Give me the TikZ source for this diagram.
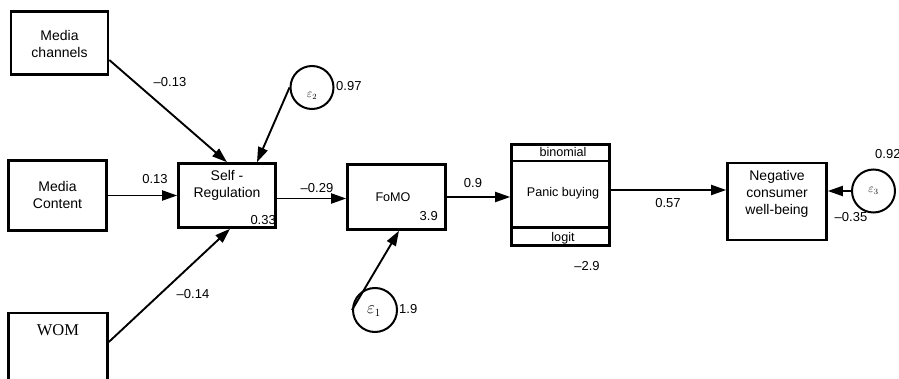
\documentclass[tikz,border=0pt]{standalone}
\usepackage{fontspec}
\setmainfont{Liberation Sans}
\newfontfamily\womfont{Liberation Serif}
\usetikzlibrary{arrows.meta,calc}
\begin{document}
\begin{tikzpicture}[x=1pt,y=-1pt,
  box/.style={draw, line width=2.6pt, inner sep=0pt},
  arr/.style={line width=1.9pt, -{Triangle[length=15pt,width=10pt]}},
  err/.style={draw, circle, line width=2pt, inner sep=0pt},
  txt/.style={font=\fontsize{14}{17}\selectfont, align=center, inner sep=0pt},
  sml/.style={font=\fontsize{12.6}{15}\selectfont, inner sep=0pt},
  num/.style={font=\fontsize{13}{15}\selectfont, inner sep=0pt}]

\path[use as bounding box] (0,0) rectangle (899,379);
\clip (0,0) rectangle (899,379);

% exogenous variables
\node[box, minimum width=97pt, minimum height=63pt] (mch) at (59.5,43) {};
\node[txt] (mcht) at (59.5,44) {Media\\channels};
\node[box, minimum width=98pt, minimum height=70pt] (mcont) at (57.5,195.5) {};
\node[txt] (mcontt) at (57.5,195) {Media\\Content};
\node[box, minimum width=99pt, minimum height=100pt] (wom) at (58,363) {};
\node[font=\womfont\fontsize{16.5}{18}\selectfont, inner sep=0pt] (womt) at (58,330) {WOM};

% mediator and outcome boxes
\node[box, minimum width=97pt, minimum height=64pt] (sr) at (227,195.5) {};
\node[txt] (srt) at (227,185) {Self -\\Regulation};
\node[num, anchor=east] (srv) at (276,220) {0.33};

\node[box, minimum width=98pt, minimum height=65pt] (fomo) at (396.5,197) {};
\node[sml] (fomot) at (393,197) {FoMO};
\node[num, anchor=east] (fomov) at (438,216) {3.9};

\node[box, minimum width=98pt, minimum height=101pt] (panic) at (560.5,195) {};
\draw[line width=2.6pt] ($(panic.north west)+(0,18)$) -- ($(panic.north east)+(0,18)$);
\draw[line width=2.6pt] ($(panic.south west)+(0,-19)$) -- ($(panic.south east)+(0,-19)$);
\node[sml] (panict) at (563,193) {Panic buying};
\node[sml] (binom) at (563,152) {binomial};
\node[sml] (logit) at (563,238) {logit};
\node[num] (panicv) at (587,266) {\textendash2.9};

\node[box, minimum width=99pt, minimum height=77pt] (ncwb) at (777,201.5) {};
\node[txt] (ncwbt) at (777,194) {Negative\\consumer\\well-being};

% error terms
\node[err, minimum size=43pt] (e2) at (312,87.5) {};
\node[font=\fontsize{12}{12}\selectfont, inner sep=0pt] (e2t) at (312,96) {$\varepsilon_2$};
\node[num, anchor=west] (e2v) at (336,86) {0.97};

\node[err, minimum size=44pt] (e1) at (375,310) {};
\node[font=\fontsize{16}{16}\selectfont, inner sep=0pt] (e1t) at (374,311) {$\varepsilon_1$};
\node[num, anchor=west] (e1v) at (399,309) {1.9};

\node[err, minimum size=43pt] (e3) at (873.5,191) {};
\node[font=\fontsize{12}{12}\selectfont, inner sep=0pt] (e3t) at (873.5,191) {$\varepsilon_3$};
\node[num, anchor=west] (e3v) at (875,154) {0.92};

% paths
\draw[arr] ([yshift=-17pt]mch.east) -- (sr.north);
\draw[arr] (e2.west) -- ([xshift=30pt]sr.north);
\draw[arr] (mcont.east) -- (mcont.east -| sr.west);
\draw[arr] ([yshift=21pt]wom.east) -- ([xshift=3pt]sr.south);
\draw[arr] ([yshift=-3pt]sr.east) -- ([yshift=-3pt]sr.east -| fomo.west);
\draw[arr] (e1.west) -- ([xshift=2.5pt]fomo.south);
\draw[arr] (fomo.east) -- (fomo.east -| panic.west);
\draw[arr] ([yshift=5pt]panic.east) -- ([yshift=5pt]panic.east -| ncwb.west);
\draw[arr] (e3.west) -- (e3.west -| ncwb.east);

% coefficients
\node[num] (c1) at (170,82) {\textendash0.13};
\node[num] (c2) at (155,179) {0.13};
\node[num] (c3) at (193,294) {\textendash0.14};
\node[num] (c4) at (317,188) {\textendash0.29};
\node[num] (c5) at (473,183) {0.9};
\node[num] (c6) at (668,203) {0.57};
\node[num] (c7) at (851,217) {\textendash0.35};
\end{tikzpicture}
\end{document}
